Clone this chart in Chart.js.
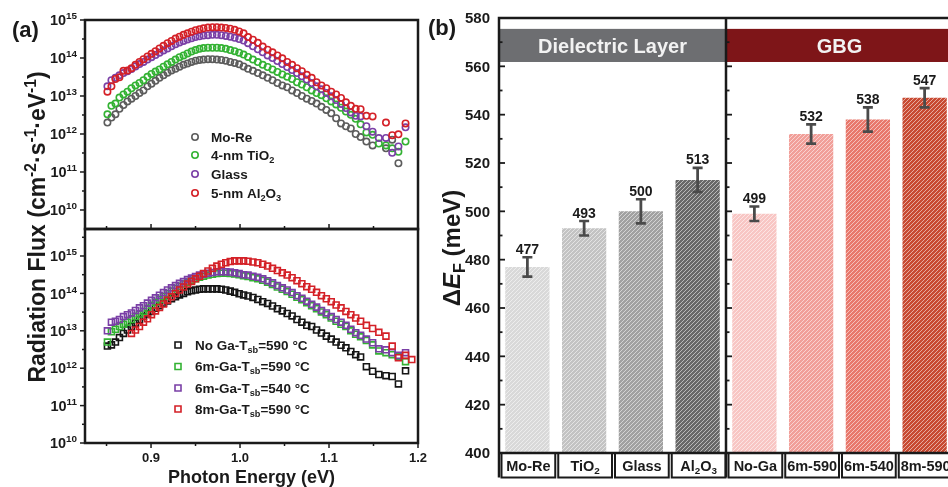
<!DOCTYPE html>
<html>
<head>
<meta charset="utf-8">
<script src="https://cdn.jsdelivr.net/npm/chart.js@4.4.1/dist/chart.umd.min.js"></script>
<style>
  html, body { margin: 0; padding: 0; background: #fff; overflow: hidden; }
  #wrap { position: relative; width: 948px; height: 487px; overflow: hidden; }
  #wrap canvas { position: absolute; top: 0; }
</style>
</head>
<body>
<div id="wrap">
  <canvas id="fluxBottom" width="440" height="487" style="left:0"></canvas>
  <canvas id="fluxTop" width="440" height="487" style="left:0"></canvas>
  <canvas id="shift" width="540" height="487" style="left:420px"></canvas>
</div>
<script>
// ---- data: panel (a), photon energy (eV) and radiation flux (cm-2 s-1 eV-1)
const energy = [
  0.851, 0.8555, 0.860, 0.8645, 0.869, 0.8735, 0.878, 0.8825, 0.887, 0.8915,
  0.896, 0.9005, 0.905, 0.9095, 0.914, 0.9185, 0.923, 0.9275, 0.932, 0.9365,
  0.941, 0.9455, 0.950, 0.9545, 0.959, 0.964, 0.969, 0.974, 0.979, 0.984,
  0.989, 0.994, 0.999, 1.004, 1.009, 1.0145, 1.020, 1.0255, 1.031, 1.0365,
  1.042, 1.0475, 1.053, 1.0585, 1.064, 1.0695, 1.075, 1.0805, 1.086, 1.0915,
  1.097, 1.1025, 1.108, 1.1135, 1.119, 1.1245, 1.130, 1.1355, 1.142, 1.149,
  1.156, 1.164, 1.171, 1.178, 1.186
];
const energyBottom = energy.concat([1.193]);

const moRe = [
  2.0e12, 2.7e12, 3.3e12, 4.6e12, 5.8e12, 7.2e12, 8.5e12, 1.0e13, 1.2e13, 1.4e13,
  1.8e13, 2.1e13, 2.5e13, 3.0e13, 3.5e13, 4.1e13, 4.7e13, 5.2e13, 5.9e13, 6.6e13,
  7.2e13, 7.9e13, 8.5e13, 8.9e13, 9.1e13, 9.3e13, 9.3e13, 9.1e13, 8.9e13, 8.5e13,
  7.9e13, 7.4e13, 6.8e13, 6.0e13, 5.2e13, 4.6e13, 4.0e13, 3.5e13, 3.0e13, 2.6e13,
  2.2e13, 1.9e13, 1.7e13, 1.4e13, 1.2e13, 1.0e13, 8.5e12, 7.4e12, 6.3e12, 5.2e12,
  4.3e12, 3.5e12, 2.6e12, 1.9e12, 1.6e12, 1.4e12, 1.0e12, 8.3e11, 6.3e11, 5.0e11,
  null, 4.2e11, 7.1e11, 1.7e11, null
];
const tio2 = [
  3.3e12, 5.5e12, 6.3e12, 9.1e12, 1.1e13, 1.3e13, 1.6e13, 1.9e13, 2.2e13, 2.6e13,
  3.2e13, 3.8e13, 4.4e13, 5.0e13, 5.9e13, 6.8e13, 7.9e13, 9.1e13, 1.05e14, 1.17e14,
  1.32e14, 1.48e14, 1.62e14, 1.74e14, 1.82e14, 1.86e14, 1.86e14, 1.86e14, 1.82e14, 1.74e14,
  1.62e14, 1.51e14, 1.38e14, 1.23e14, 1.07e14, 9.1e13, 7.8e13, 6.6e13, 5.8e13, 5.0e13,
  4.3e13, 3.7e13, 3.2e13, 2.8e13, 2.3e13, 2.0e13, 1.7e13, 1.4e13, 1.2e13, 1.05e13,
  8.7e12, 7.2e12, 6.0e12, 4.9e12, 3.9e12, 3.2e12, 2.5e12, 1.8e12, 1.1e12, 9.5e11,
  5.6e11, 5.0e11, 4.2e11, 3.4e11, 6.3e11
];
const glass = [
  1.8e13, 2.6e13, 3.0e13, 3.5e13, 4.0e13, 4.5e13, 5.1e13, 6.0e13, 6.9e13, 7.9e13,
  9.1e13, 1.05e14, 1.2e14, 1.38e14, 1.58e14, 1.78e14, 2.04e14, 2.29e14, 2.57e14, 2.82e14,
  3.09e14, 3.31e14, 3.55e14, 3.72e14, 3.89e14, 3.98e14, 4.07e14, 4.07e14, 3.98e14, 3.8e14,
  3.63e14, 3.39e14, 3.16e14, 2.88e14, 2.45e14, 2.04e14, 1.7e14, 1.41e14, 1.17e14, 1.0e14,
  8.3e13, 6.9e13, 5.8e13, 4.8e13, 4.0e13, 3.3e13, 2.7e13, 2.2e13, 1.8e13, 1.5e13,
  1.2e13, 9.8e12, 7.8e12, 6.2e12, 4.8e12, 3.7e12, 3.0e12, 2.9e12, 1.6e12, 1.15e12,
  7.8e11, 7.9e11, 3.2e11, 4.7e11, 1.5e12
];
const al2o3 = [
  1.3e13, 1.8e13, 2.8e13, 3.1e13, 4.6e13, 4.7e13, 5.4e13, 6.6e13, 7.9e13, 9.3e13,
  1.1e14, 1.29e14, 1.51e14, 1.78e14, 2.09e14, 2.45e14, 2.82e14, 3.24e14, 3.63e14, 4.07e14,
  4.47e14, 4.9e14, 5.37e14, 5.75e14, 6.03e14, 6.31e14, 6.46e14, 6.46e14, 6.31e14, 6.17e14,
  5.89e14, 5.5e14, 5.01e14, 4.47e14, 3.55e14, 3.02e14, 2.51e14, 2.0e14, 1.66e14, 1.41e14,
  1.17e14, 9.8e13, 7.9e13, 6.6e13, 5.4e13, 4.5e13, 3.6e13, 3.0e13, 2.3e13, 1.9e13,
  1.6e13, 1.3e13, 1.1e13, 8.9e12, 6.8e12, 5.5e12, 4.6e12, 4.5e12, 3.0e12, 2.9e12,
  null, 2.0e12, 9.3e11, 9.8e11, 1.9e12
];

const noGa590 = [
  3.9e12, 4.2e12, 5.0e12, 6.6e12, 8.5e12, 1.05e13, 1.3e13, 1.6e13, 2.0e13, 2.4e13,
  2.8e13, 3.3e13, 4.0e13, 4.7e13, 5.5e13, 6.3e13, 7.2e13, 8.1e13, 9.1e13, 1.0e14,
  1.1e14, 1.17e14, 1.23e14, 1.29e14, 1.32e14, 1.32e14, 1.32e14, 1.32e14, 1.29e14, 1.23e14,
  1.15e14, 1.07e14, 9.8e13, 9.1e13, 8.5e13, 7.8e13, 6.9e13, 6.0e13, 5.4e13, 4.6e13,
  3.9e13, 3.4e13, 2.9e13, 2.5e13, 2.0e13, 1.7e13, 1.4e13, 1.3e13, 1.05e13, 8.7e12,
  7.2e12, 6.0e12, 5.0e12, 4.1e12, 3.5e12, 2.8e12, 2.3e12, 2.0e12, 1.1e12, 8.3e11,
  6.8e11, 6.3e11, 6.0e11, 3.8e11, 8.5e11, null
];
const ga6m590 = [
  5.0e12, 9.5e12, 1.1e13, 1.3e13, 1.5e13, 1.7e13, 2.0e13, 2.4e13, 2.8e13, 3.3e13,
  4.0e13, 4.8e13, 5.8e13, 6.9e13, 8.3e13, 9.8e13, 1.15e14, 1.35e14, 1.55e14, 1.78e14,
  2.0e14, 2.24e14, 2.45e14, 2.69e14, 2.88e14, 3.09e14, 3.24e14, 3.39e14, 3.47e14, 3.47e14,
  3.39e14, 3.31e14, 3.16e14, 2.95e14, 2.82e14, 2.63e14, 2.45e14, 2.24e14, 2.0e14, 1.74e14,
  1.48e14, 1.29e14, 1.12e14, 9.5e13, 7.9e13, 6.8e13, 5.6e13, 4.7e13, 3.9e13, 3.2e13,
  2.7e13, 2.2e13, 1.8e13, 1.5e13, 1.3e13, 1.0e13, 8.1e12, 6.9e12, 5.5e12, 4.2e12,
  2.9e12, 2.6e12, 2.3e12, 2.1e12, 1.5e12, null
];
const ga6m540 = [
  1.0e13, 1.7e13, 1.8e13, 2.0e13, 2.4e13, 2.7e13, 3.0e13, 3.5e13, 4.1e13, 4.7e13,
  5.5e13, 6.5e13, 7.6e13, 8.9e13, 1.05e14, 1.23e14, 1.41e14, 1.62e14, 1.86e14, 2.09e14,
  2.34e14, 2.57e14, 2.82e14, 3.09e14, 3.24e14, 3.47e14, 3.63e14, 3.8e14, 3.8e14, 3.8e14,
  3.72e14, 3.55e14, 3.39e14, 3.16e14, 3.09e14, 2.88e14, 2.69e14, 2.45e14, 2.19e14, 1.91e14,
  1.62e14, 1.41e14, 1.23e14, 1.05e14, 8.7e13, 7.4e13, 6.2e13, 5.1e13, 4.3e13, 3.5e13,
  3.0e13, 2.4e13, 2.0e13, 1.7e13, 1.4e13, 1.1e13, 8.9e12, 7.6e12, 6.0e12, 4.8e12,
  3.3e12, 3.1e12, 2.6e12, 2.2e12, 2.6e12, null
];
const ga8m590 = [
  null, null, null, null, null, null, 8.5e12, 1.05e13, 1.3e13, 1.7e13,
  2.1e13, 2.7e13, 3.4e13, 4.2e13, 5.2e13, 6.6e13, 8.1e13, 1.0e14, 1.23e14, 1.48e14,
  1.78e14, 2.09e14, 2.45e14, 2.88e14, 3.39e14, 3.98e14, 4.68e14, 5.37e14, 6.03e14, 6.61e14,
  7.08e14, 7.41e14, 7.41e14, 7.41e14, 7.24e14, 6.92e14, 6.61e14, 6.03e14, 5.37e14, 4.68e14,
  4.07e14, 3.55e14, 3.09e14, 2.63e14, 2.19e14, 1.82e14, 1.51e14, 1.29e14, 1.07e14, 8.7e13,
  7.2e13, 6.0e13, 4.9e13, 4.1e13, 3.3e13, 2.7e13, 2.2e13, 1.8e13, 1.4e13, 1.15e13,
  9.1e12, 7.2e12, 3.9e12, 1.9e12, 2.2e12, 1.7e12
];

const fluxDecades = [10, 11, 12, 13, 14, 15];
const energyTicks = [0.9, 1.0, 1.1, 1.2];
const energyMinor = [0.85, 0.95, 1.05, 1.15];

// ---- data: panel (b), Fermi level splitting (meV)
const shiftLabels = ['Mo-Re', 'TiO_{2}', 'Glass', 'Al_{2}O_{3}', 'No-Ga', '6m-590', '6m-540', '8m-590'];
const shiftValues = [477, 493, 500, 513, 499, 532, 538, 547];
const shiftErrors = [4, 3, 5, 5, 3, 4, 5, 4];
const shiftTickLabels = [400, 420, 440, 460, 480, 500, 520, 540, 560, 580];
const shiftGroups = ['Dielectric Layer', 'GBG'];
const shiftGroupSize = [4, 4];

// ---- styles
const FONT = "'Liberation Sans', Arial, Helvetica, sans-serif";
const INK = '#1a1a1a';
const barColors = ['#d9d9d9', '#c3c3c3', '#a1a1a1', '#686868', '#f8c6c4', '#f19f99', '#e8786c', '#c84a32'];
const groupColors = ['#6d6e71', '#7e1518'];

// small markup: _{sub} ^{sup} *{italic}
function parts(str) {
  const out = [];
  const re = /([_^*])\{([^}]*)\}/g;
  let last = 0, m;
  while ((m = re.exec(str))) {
    if (m.index > last) out.push({ t: str.slice(last, m.index), k: '' });
    out.push({ t: m[2], k: m[1] });
    last = re.lastIndex;
  }
  if (last < str.length) out.push({ t: str.slice(last), k: '' });
  return out;
}

function fontFor(k, size) {
  if (k === '_' || k === '^') return `bold ${(size * 0.68).toFixed(1)}px ${FONT}`;
  if (k === '*') return `italic bold ${size}px ${FONT}`;
  return `bold ${size}px ${FONT}`;
}

function rich(ctx, str, x, y, size, align, color) {
  const ps = parts(str);
  let w = 0;
  ps.forEach(p => { ctx.font = fontFor(p.k, size); p.w = ctx.measureText(p.t).width; w += p.w; });
  let cx = align === 'center' ? x - w / 2 : align === 'right' ? x - w : x;
  ctx.fillStyle = color || INK;
  ctx.textAlign = 'left';
  ctx.textBaseline = 'alphabetic';
  ps.forEach(p => {
    ctx.font = fontFor(p.k, size);
    const dy = p.k === '^' ? -size * 0.4 : p.k === '_' ? size * 0.22 : 0;
    ctx.fillText(p.t, cx, y + dy);
    cx += p.w;
  });
}

function marker(ctx, style, color, x, y) {
  ctx.save();
  ctx.strokeStyle = color;
  ctx.lineWidth = 1.6;
  ctx.beginPath();
  if (style === 'rect') ctx.rect(x - 3, y - 3, 6, 6);
  else ctx.arc(x, y, 3.2, 0, Math.PI * 2);
  ctx.stroke();
  ctx.restore();
}

// axes, ticks and legend for one flux panel
function fluxDecor(cfg) {
  return {
    id: 'fluxDecor',
    afterDatasetsDraw(chart) {
      const { ctx, chartArea: a, scales: { x, y } } = chart;
      ctx.save();
      ctx.strokeStyle = INK;
      ctx.lineWidth = 1.5;
      // y ticks, outward, decades and half decades
      const lo = Math.log10(y.min), hi = Math.log10(y.max);
      fluxDecades.forEach(d => {
        [d, d + 0.5].forEach(e => {
          if (e < lo - 0.01 || e > hi + 0.01) return;
          const py = y.getPixelForValue(Math.pow(10, e));
          const major = e === d;
          ctx.beginPath();
          ctx.moveTo(a.left, py);
          ctx.lineTo(a.left - (major ? 5 : 3), py);
          ctx.stroke();
          if (major) rich(ctx, '10^{' + d + '}', a.left - 8, py + 5.2, 14.5, 'right');
        });
      });
      // x ticks
      const dir = cfg.xLabels ? 1 : -1;
      energyTicks.concat(energyMinor).forEach(v => {
        const px = x.getPixelForValue(v);
        const major = energyTicks.includes(v);
        ctx.beginPath();
        ctx.moveTo(px, a.bottom);
        ctx.lineTo(px, a.bottom + dir * (major ? 5 : 3));
        ctx.stroke();
        if (major && cfg.xLabels) rich(ctx, v.toFixed(1), px, a.bottom + 18.5, 13, 'center');
      });
      // frame
      ctx.lineWidth = 2.5;
      ctx.strokeRect(a.left, a.top, a.right - a.left, a.bottom - a.top);
      // legend
      cfg.legend.forEach((it, i) => {
        const ly = cfg.legendRows[i];
        marker(ctx, cfg.pointStyle, it.color, cfg.legendX, ly);
        rich(ctx, it.label, cfg.legendX + cfg.legendGap, ly + 4.9, 13.5, 'left');
      });
      if (cfg.titles) {
        rich(ctx, '(a)', 12, 37, 22, 'left');
        rich(ctx, 'Photon Energy (eV)', (a.left + a.right) / 2, 483, 18, 'center');
        ctx.translate(45, 227);
        ctx.rotate(-Math.PI / 2);
        rich(ctx, 'Radiation Flux (cm^{-2}·s^{-1}·eV^{-1})', 0, 0, 23, 'center');
      }
      ctx.restore();
    }
  };
}

function fluxChart(id, xs, series, yMin, yMax, pad, cfg) {
  return new Chart(document.getElementById(id), {
    type: 'scatter',
    data: {
      datasets: series.map(s => ({
        label: s.label,
        data: xs.map((e, i) => ({ x: e, y: s.values[i] })).filter(p => p.y !== null),
        showLine: false,
        pointStyle: cfg.pointStyle,
        pointRadius: cfg.pointStyle === 'rect' ? 4.2 : 3.2,
        pointBorderWidth: 1.6,
        pointBorderColor: s.color,
        pointBackgroundColor: 'rgba(0,0,0,0)'
      }))
    },
    options: {
      responsive: false,
      animation: false,
      devicePixelRatio: 1,
      events: [],
      layout: { padding: pad },
      plugins: { legend: { display: false }, tooltip: { enabled: false } },
      scales: {
        x: { type: 'linear', min: 0.8258, max: 1.2, display: false },
        y: { type: 'logarithmic', min: yMin, max: yMax, display: false }
      }
    },
    plugins: [fluxDecor(cfg)]
  });
}

// top: dielectric layers (red drawn on top, so it is listed first)
const topSeries = [
  { label: '5-nm Al_{2}O_{3}', values: al2o3, color: '#d42027' },
  { label: 'Glass', values: glass, color: '#7a3fa6' },
  { label: '4-nm TiO_{2}', values: tio2, color: '#33b233' },
  { label: 'Mo-Re', values: moRe, color: '#5c5c5c' }
];
fluxChart('fluxTop', energy, topSeries, 3.16e9, 1e15,
  { left: 85, right: 22, top: 20, bottom: 258 },
  { pointStyle: 'circle', xLabels: false, titles: true,
    legend: topSeries.slice().reverse(), legendX: 195, legendGap: 16, legendRows: [137, 155, 174, 193] });

const bottomSeries = [
  { label: '8m-Ga-T_{sb}=590 °C', values: ga8m590, color: '#d42027' },
  { label: '6m-Ga-T_{sb}=540 °C', values: ga6m540, color: '#7a3fa6' },
  { label: '6m-Ga-T_{sb}=590 °C', values: ga6m590, color: '#33b233' },
  { label: 'No Ga-T_{sb}=590 °C', values: noGa590, color: '#151515' }
];
fluxChart('fluxBottom', energyBottom, bottomSeries, 1e10, 5.27e15,
  { left: 85, right: 22, top: 229, bottom: 44 },
  { pointStyle: 'rect', xLabels: true, titles: false,
    legend: bottomSeries.slice().reverse(), legendX: 178, legendGap: 17, legendRows: [345, 366.5, 388, 409] });

// ---- panel (b)
const shiftCanvas = document.getElementById('shift');
const shiftCtx = shiftCanvas.getContext('2d');

function hatch(color) {
  const s = 4;
  const c = document.createElement('canvas');
  c.width = s; c.height = s;
  const g = c.getContext('2d');
  g.fillStyle = color;
  g.fillRect(0, 0, s, s);
  g.strokeStyle = 'rgba(255,255,255,0.6)';
  g.lineWidth = 0.9;
  g.beginPath();
  g.moveTo(-1, s + 1); g.lineTo(s + 1, -1);
  g.moveTo(-1, 1); g.lineTo(1, -1);
  g.moveTo(s - 1, s + 1); g.lineTo(s + 1, s - 1);
  g.stroke();
  return shiftCtx.createPattern(c, 'repeat');
}

const shiftDecor = {
  id: 'shiftDecor',
  beforeDatasetsDraw(chart) {
    const { ctx, chartArea: a, scales: { y } } = chart;
    const cat = (a.right - a.left) / shiftLabels.length;
    const yt = y.getPixelForValue(575.5), yb = y.getPixelForValue(561.8);
    ctx.save();
    let start = 0;
    shiftGroups.forEach((g, i) => {
      const l = a.left + start * cat, r = a.left + (start + shiftGroupSize[i]) * cat;
      ctx.fillStyle = groupColors[i];
      ctx.fillRect(l, yt, r - l, yb - yt);
      rich(ctx, g, (l + r) / 2, (yt + yb) / 2 + 7.2, 20, 'center', '#f2f2f2');
      start += shiftGroupSize[i];
    });
    ctx.restore();
  },
  afterDatasetsDraw(chart) {
    const { ctx, scales: { x, y } } = chart;
    ctx.save();
    ctx.strokeStyle = '#4a4a4a';
    shiftValues.forEach((v, i) => {
      const px = x.getPixelForValue(i);
      const top = y.getPixelForValue(v + shiftErrors[i]);
      const bot = y.getPixelForValue(v - shiftErrors[i]);
      ctx.lineWidth = 2.8;
      ctx.beginPath();
      ctx.moveTo(px, top); ctx.lineTo(px, bot);
      ctx.stroke();
      ctx.lineWidth = 2.6;
      ctx.beginPath();
      ctx.moveTo(px - 5, top); ctx.lineTo(px + 5, top);
      ctx.moveTo(px - 5, bot); ctx.lineTo(px + 5, bot);
      ctx.stroke();
      rich(ctx, String(v), px, top - 3.5, 14, 'center');
    });
    ctx.restore();
  },
  afterDraw(chart) {
    const { ctx, chartArea: a, scales: { y } } = chart;
    const cat = (a.right - a.left) / shiftLabels.length;
    const boxBottom = a.bottom + 24.5;
    const divider = a.left + shiftGroupSize[0] * cat;
    ctx.save();
    ctx.strokeStyle = INK;
    // category boxes
    ctx.lineWidth = 2;
    shiftLabels.forEach((lab, i) => {
      const l = a.left + i * cat;
      ctx.strokeRect(l + 2.5, a.bottom, cat - 3, boxBottom - a.bottom);
      rich(ctx, lab, l + cat / 2 + 1, a.bottom + 17.5, 14.5, 'center');
    });
    // ticks on left axis and on the divider, pointing right
    ctx.lineWidth = 1.8;
    shiftTickLabels.forEach((v, i) => {
      const py = y.getPixelForValue(v);
      [a.left, divider].forEach(ax => {
        ctx.beginPath(); ctx.moveTo(ax, py); ctx.lineTo(ax + 6, py); ctx.stroke();
      });
      rich(ctx, String(v), a.left - 9, py + 5.4, 15, 'right');
      if (i < shiftTickLabels.length - 1) {
        const pm = y.getPixelForValue((v + shiftTickLabels[i + 1]) / 2);
        [a.left, divider].forEach(ax => {
          ctx.beginPath(); ctx.moveTo(ax, pm); ctx.lineTo(ax + 3.5, pm); ctx.stroke();
        });
      }
    });
    // frame
    ctx.lineWidth = 2.5;
    ctx.beginPath();
    ctx.moveTo(a.left, boxBottom); ctx.lineTo(a.left, a.top); ctx.lineTo(a.right, a.top);
    ctx.lineTo(a.right, a.bottom); ctx.lineTo(a.left, a.bottom);
    ctx.moveTo(divider, a.top); ctx.lineTo(divider, boxBottom);
    ctx.stroke();
    // titles
    rich(ctx, '(b)', 8, 35, 22, 'left');
    ctx.translate(40, 248);
    ctx.rotate(-Math.PI / 2);
    rich(ctx, 'Δ*{E}_{F} (meV)', 0, 0, 24, 'center');
    ctx.restore();
  }
};

new Chart(shiftCanvas, {
  type: 'bar',
  data: {
    labels: shiftLabels,
    datasets: [{
      data: shiftValues,
      backgroundColor: barColors.map(hatch),
      borderWidth: 0,
      barPercentage: 0.78,
      categoryPercentage: 1
    }]
  },
  options: {
    responsive: false,
    animation: false,
    devicePixelRatio: 1,
    events: [],
    layout: { padding: { left: 79, right: 7, top: 18, bottom: 34 } },
    plugins: { legend: { display: false }, tooltip: { enabled: false } },
    scales: {
      x: { display: false, offset: true },
      y: { display: false, min: 400, max: 580 }
    }
  },
  plugins: [shiftDecor]
});
</script>
</body>
</html>
